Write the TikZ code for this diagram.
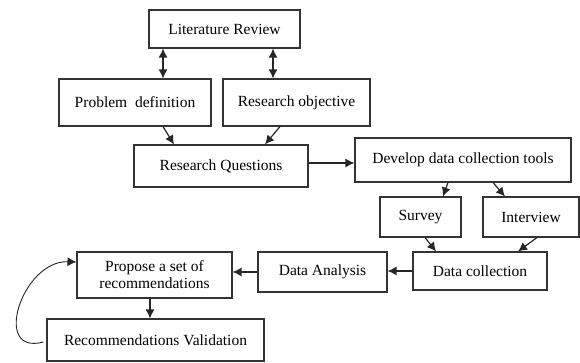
\documentclass[tikz,border=0pt]{standalone}
\usepackage{fontspec}
\setmainfont{Liberation Serif}
\usetikzlibrary{arrows.meta}
\begin{document}
\begin{tikzpicture}[x=1pt, y=-1pt,
    stagebox/.style={draw=black!80, line width=1.1pt, inner sep=2pt, align=center,
        font=\fontsize{15.5}{17}\selectfont},
    flow/.style={-{Latex[length=9pt,width=9pt]}, line width=1.2pt, black!85},
    twoway/.style={{Latex[length=9pt,width=9pt]}-{Latex[length=9pt,width=9pt]}, line width=1.2pt, black!85}]
        \useasboundingbox (0,0) rectangle (580,363);
        % first row
        \node[stagebox, minimum width=151pt, minimum height=38pt] (lit) at (224.5,29) {Literature Review};
        \node[stagebox, minimum width=152pt, minimum height=47pt] (prob) at (135,102.5) {Problem\ \ definition};
        \node[stagebox, minimum width=147pt, minimum height=47pt] (obj) at (296.5,102.5) {Research objective};
        \node[stagebox, minimum width=174pt, minimum height=42pt] (rq) at (221,166) {Research Questions};
        % data collection branch
        \node[stagebox, minimum width=216pt, minimum height=44pt] (dev) at (463,160) {Develop data collection tools};
        \node[stagebox, minimum width=81pt, minimum height=40pt] (survey) at (420.5,217) {Survey};
        \node[stagebox, minimum width=96pt, minimum height=40pt] (interview) at (531,217) {Interview};
        \node[stagebox, minimum width=134pt, minimum height=38pt] (dcoll) at (480,271) {Data collection};
        \node[stagebox, minimum width=129pt, minimum height=40pt] (danal) at (322.5,272) {Data Analysis};
        % recommendations
        \node[stagebox, minimum width=155pt, minimum height=46pt] (propose) at (154.5,275) {Propose a set of\\recommendations};
        \node[stagebox, minimum width=217pt, minimum height=42pt] (valid) at (155.5,340) {Recommendations Validation};
        % connectors
        \draw[twoway] ([xshift=-61.5pt]lit.south) -- ([xshift=28pt]prob.north);
        \draw[twoway] ([xshift=48.5pt]lit.south) -- ([xshift=-23.5pt]obj.north);
        \draw[flow] ([xshift=28pt]prob.south) -- ([xshift=-47pt]rq.north);
        \draw[flow] ([xshift=-16.5pt]obj.south) -- ([xshift=44pt]rq.north);
        \draw[flow] ([yshift=3pt]rq.east) -- ([yshift=-3pt]dev.west);
        \draw[flow] ([xshift=-15pt]dev.south) -- ([xshift=22.5pt]survey.north);
        \draw[flow] ([xshift=30pt]dev.south) -- ([xshift=-26pt]interview.north);
        \draw[flow] ([xshift=4.5pt]survey.south) -- ([xshift=-44pt]dcoll.north);
        \draw[flow] ([xshift=6pt]interview.south) -- ([xshift=38pt]dcoll.north);
        \draw[flow] (dcoll.west) -- (dcoll.west -| danal.east);
        \draw[flow] (danal.west) -- (danal.west -| propose.east);
        \draw[flow] ([xshift=-4.5pt]propose.south) -- ([xshift=-4.5pt]propose.south |- valid.north);
        \draw[flow, line width=0.9pt] ([xshift=-3pt, yshift=-2pt]valid.west)
            to[out=195, in=178, looseness=1.6] ([yshift=13pt]propose.west);
    \end{tikzpicture}
\end{document}
